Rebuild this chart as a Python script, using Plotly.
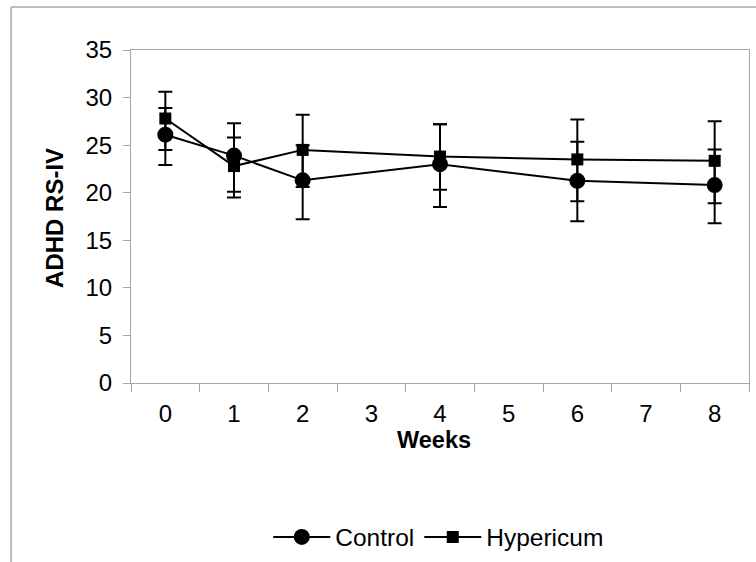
import plotly.graph_objects as go

categories = ["0", "1", "2", "3", "4", "5", "6", "7", "8"]
weeks = ["0", "1", "2", "4", "6", "8"]

control = [26.1, 23.9, 21.3, 23.0, 21.25, 20.8]
control_err_plus = [2.8, 3.4, 3.7, 4.2, 4.1, 3.75]
control_err_minus = [3.2, 3.8, 4.1, 4.5, 4.25, 4.0]

hypericum = [27.8, 22.8, 24.5, 23.8, 23.5, 23.35]
hyp_err_plus = [2.8, 3.0, 3.7, 3.4, 4.2, 4.15]
hyp_err_minus = [3.3, 3.3, 3.9, 3.5, 4.4, 4.45]

y_ticks = [0, 5, 10, 15, 20, 25, 30, 35]

FONT = "Liberation Sans, Arial, sans-serif"
GRAY = "#A6A6A6"

fig = go.Figure()
fig.add_trace(go.Scatter(
    x=weeks, y=control, name="Control", mode="lines+markers",
    line=dict(color="black", width=2),
    marker=dict(symbol="circle", size=16, color="black"),
    error_y=dict(type="data", symmetric=False, array=control_err_plus,
                 arrayminus=control_err_minus, color="black", thickness=2, width=7),
))
fig.add_trace(go.Scatter(
    x=weeks, y=hypericum, name="Hypericum", mode="lines+markers",
    line=dict(color="black", width=2),
    marker=dict(symbol="square", size=12, color="black"),
    error_y=dict(type="data", symmetric=False, array=hyp_err_plus,
                 arrayminus=hyp_err_minus, color="black", thickness=2, width=7),
))

fig.update_layout(
    width=756, height=562,
    margin=dict(l=131, r=7, t=50, b=179, autoexpand=False),
    paper_bgcolor="white", plot_bgcolor="white",
    font=dict(family=FONT, color="black", size=24),
    showlegend=True,
    legend=dict(orientation="h", x=0.498, xanchor="center",
                yref="container", y=0.0445, yanchor="middle",
                font=dict(size=24.5, family=FONT), itemwidth=57, tracegroupgap=0),
    xaxis=dict(type="category", categoryorder="array", categoryarray=categories,
               range=[-0.5, 8.5], tickson="boundaries", ticks="outside", ticklen=8,
               tickcolor=GRAY, showline=True, linecolor=GRAY, linewidth=1, mirror=True,
               showgrid=False, tickfont=dict(size=24), ticklabelstandoff=9, zeroline=False),
    yaxis=dict(range=[0, 35], tickvals=y_ticks, ticks="outside", ticklen=7,
               tickcolor=GRAY, showline=True, linecolor=GRAY, linewidth=1, mirror=True,
               showgrid=False, zeroline=False, tickfont=dict(size=24), ticklabelstandoff=6),
    annotations=[
        dict(text="<b>Weeks</b>", xref="paper", yref="paper", x=0.49, y=-0.170,
             showarrow=False, font=dict(size=23.5, family=FONT), xanchor="center", yanchor="middle"),
        dict(text="<b>ADHD RS-IV</b>", xref="paper", yref="paper", x=-0.125, y=0.495,
             showarrow=False, textangle=-90, font=dict(size=24, family=FONT),
             xanchor="center", yanchor="middle"),
    ],
    shapes=[
        dict(type="line", xref="paper", yref="paper", x0=-0.194, x1=1.2, y0=1.129, y1=1.129,
             line=dict(color=GRAY, width=1.5)),
        dict(type="line", xref="paper", yref="paper", x0=-0.194, x1=-0.194, y0=1.129, y1=-0.7,
             line=dict(color=GRAY, width=1.5)),
    ],
)

fig.write_html("out.html", post_script="document.body.style.margin='0';",
               config={"displayModeBar": False})
